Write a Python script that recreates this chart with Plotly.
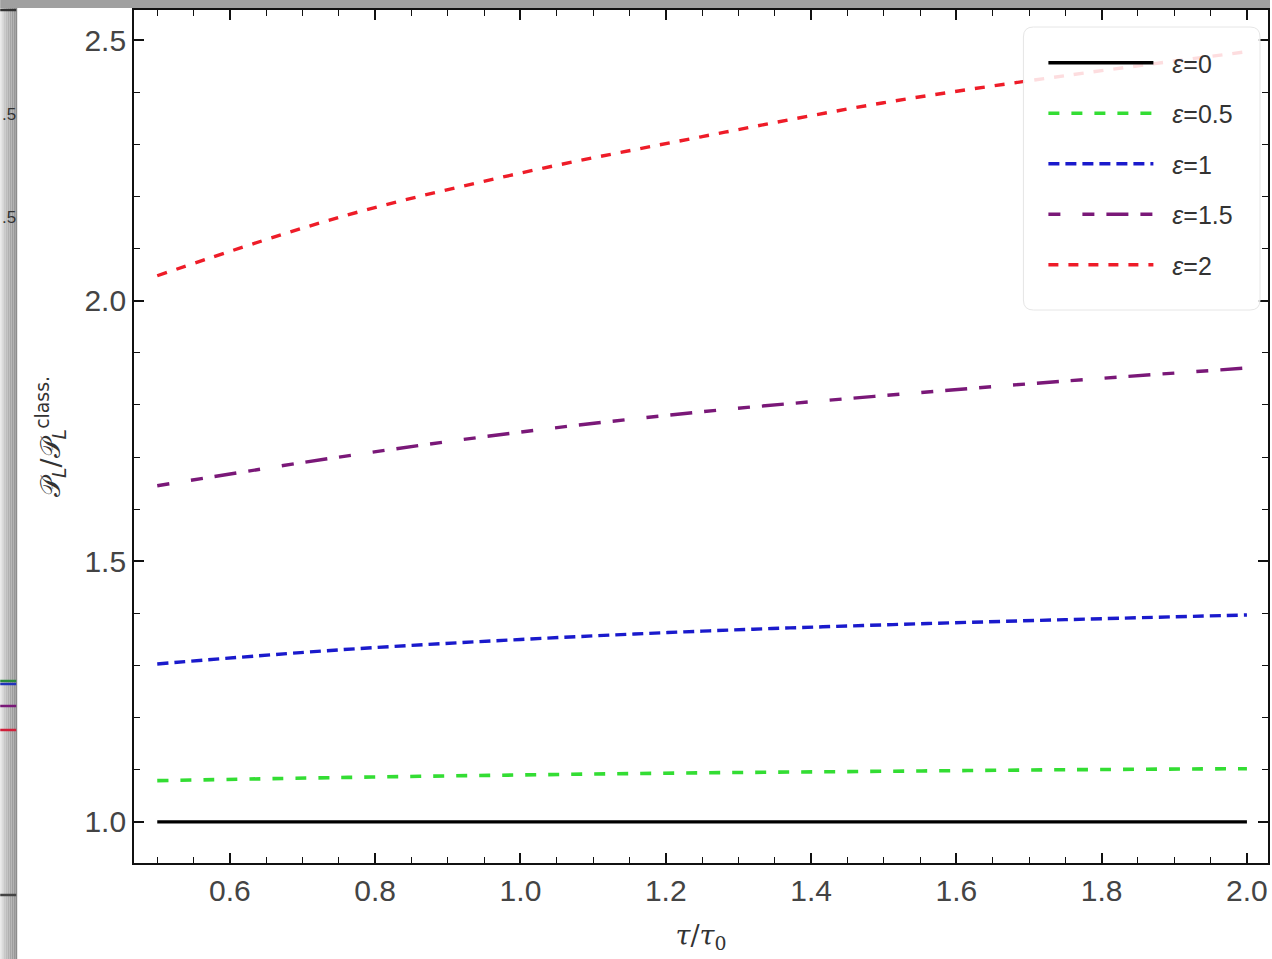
import plotly.graph_objects as go

# ---- data ----
tau = [0.5, 0.75, 1.0, 1.25, 1.5, 1.75, 2.0]
eps_labels = ["0", "0.5", "1", "1.5", "2"]
p_eps0 = [1.0, 1.0, 1.0, 1.0, 1.0, 1.0, 1.0]
p_eps05 = [1.079, 1.085, 1.090, 1.094, 1.097, 1.100, 1.102]
p_eps1 = [1.303, 1.330, 1.350, 1.366, 1.378, 1.388, 1.397]
p_eps15 = [1.645, 1.700, 1.748, 1.787, 1.818, 1.846, 1.871]
p_eps2 = [2.048, 2.160, 2.245, 2.315, 2.380, 2.432, 2.478]

x_ticks = [0.6, 0.8, 1.0, 1.2, 1.4, 1.6, 1.8, 2.0]
y_ticks = [1.0, 1.5, 2.0, 2.5]

series = [
    (p_eps0, "black", "solid", 3.4),
    (p_eps05, "#33dd33", "11px,12px", 3.6),
    (p_eps1, "#1a1acc", "11px,6px", 3.4),
    (p_eps15, "#7a1878", "12px,22px,12px,12px,22px,12px", 3.4),
    (p_eps2, "#ee1c28", "10px,10px", 3.4),
]

W, H = 1272, 959
ML, MR, MT, MB = 134, 2, 10, 96
PW, PH = W - ML - MR, H - MT - MB


def px(x):
    return (x - ML) / PW


def py(y):
    return 1 - (y - MT) / PH


fig = go.Figure()
for i, (vals, col, dash, w) in enumerate(series):
    fig.add_trace(go.Scatter(
        x=tau, y=vals, mode="lines", line_shape="spline",
        line=dict(color=col, dash=dash, width=w),
        name="\u00a0\u00a0<i>ε</i>=" + eps_labels[i], legendgroup=str(i),
    ))

shapes = []
# gray window border strips (left, gradient) and top
grays = ["#e4e4e4", "#d6d6d6", "#c8c8c8", "#bcbcbc", "#b0b0b0", "#a6a6a6", "#9e9e9e", "#989898", "#8c8c8c"]
sw = 17 / len(grays)
for k, g in enumerate(grays):
    shapes.append(dict(type="rect", xref="paper", yref="paper",
                       x0=px(k * sw), x1=px((k + 1) * sw), y0=py(H), y1=py(0),
                       fillcolor=g, line_width=0, layer="above"))
shapes.append(dict(type="rect", xref="paper", yref="paper",
                   x0=px(0), x1=px(W), y0=py(8), y1=py(0),
                   fillcolor="#a0a0a0", line_width=0, layer="above"))
# fragments of neighbouring chart inside left strip
for yy, c in [(10, "#333333"), (895, "#444444"), (681, "#2a8a3a"), (684, "#2233bb"), (706, "#7a1878"), (730, "#d0203a")]:
    shapes.append(dict(type="line", xref="paper", yref="paper",
                       x0=px(0), x1=px(16), y0=py(yy), y1=py(yy),
                       line=dict(color=c, width=2.5), layer="above"))

# legend box (rounded)
lx0, lx1, ly0, ly1, r = 1025, 1262, 27, 310, 10
path = (f"M {px(lx0 + r)},{py(ly0)} L {px(lx1 - r)},{py(ly0)} "
        f"Q {px(lx1)},{py(ly0)} {px(lx1)},{py(ly0 + r)} L {px(lx1)},{py(ly1 - r)} "
        f"Q {px(lx1)},{py(ly1)} {px(lx1 - r)},{py(ly1)} L {px(lx0 + r)},{py(ly1)} "
        f"Q {px(lx0)},{py(ly1)} {px(lx0)},{py(ly1 - r)} L {px(lx0)},{py(ly0 + r)} "
        f"Q {px(lx0)},{py(ly0)} {px(lx0 + r)},{py(ly0)} Z")
shapes.append(dict(type="path", xref="paper", yref="paper", path=path,
                   fillcolor="rgba(255,255,255,0.85)", line=dict(color="#e6e6e6", width=1),
                   layer="above"))

annotations = []
for yy in (115, 218):
    annotations.append(dict(text=".5", xref="paper", yref="paper", x=px(17), y=py(yy),
                            xanchor="right", yanchor="middle", showarrow=False, borderpad=0,
                            font=dict(size=17, color="#333", family="Liberation Sans")))

axis_common = dict(
    showline=True, linecolor="#111", linewidth=1.8, mirror="ticks",
    ticks="inside", ticklen=10, tickwidth=1.6, tickcolor="#111",
    showgrid=False, zeroline=False,
    tickfont=dict(size=30, color="#444", family="Liberation Sans"),
)

fig.update_layout(
    width=W, height=H,
    margin=dict(l=ML, r=MR, t=MT, b=MB),
    paper_bgcolor="white", plot_bgcolor="white",
    shapes=shapes, annotations=annotations,
    xaxis=dict(range=[0.468, 2.029], tickvals=x_ticks,
               ticktext=[f"{v:.1f}" for v in x_ticks],
               minor=dict(dtick=0.05, ticks="inside", ticklen=6, tickwidth=1.3, tickcolor="#111"),
               title=dict(text="<i>τ</i>/<i>τ</i><sub>0</sub>", standoff=20,
                          font=dict(size=27, color="#333", family="DejaVu Serif")),
               **axis_common),
    yaxis=dict(range=[0.921, 2.558], tickvals=y_ticks,
               ticktext=[f"{v:.1f}" for v in y_ticks],
               minor=dict(dtick=0.1, ticks="inside", ticklen=6, tickwidth=1.3, tickcolor="#111"),
               title=dict(text="𝒫<sub><i>L</i></sub>/𝒫<sub><i>L</i></sub><sup>class.</sup>", standoff=16,
                          font=dict(size=27, color="#333", family="DejaVu Sans")),
               **axis_common),
    legend=dict(x=px(1045), y=py(40), xanchor="left", yanchor="top",
                bgcolor="rgba(0,0,0,0)", borderwidth=0,
                itemwidth=105, tracegroupgap=15,
                font=dict(size=25, color="#333", family="Liberation Sans")),
    showlegend=True,
)

fig.write_html("out.html")
